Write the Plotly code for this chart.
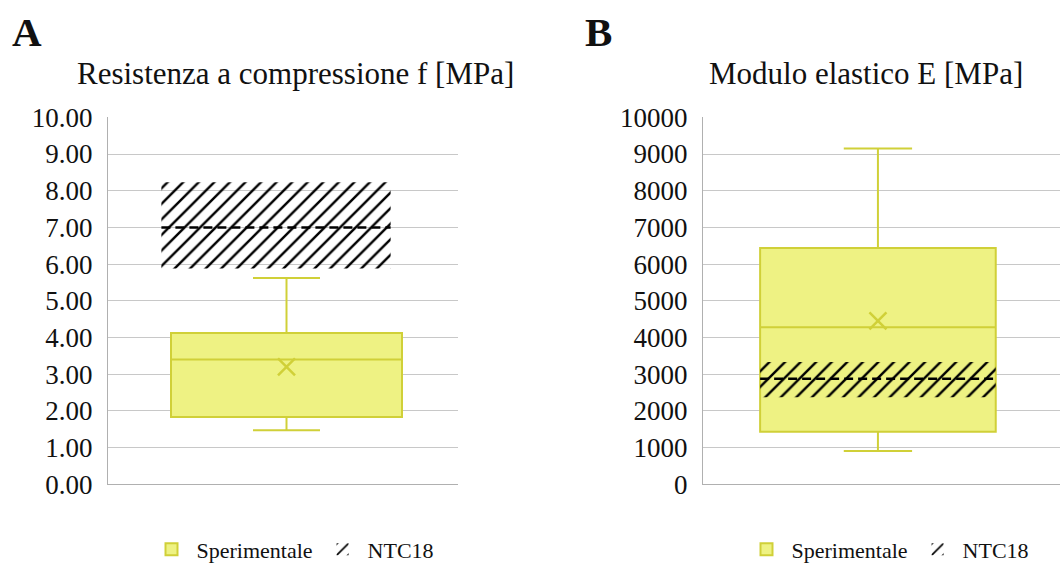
import plotly.graph_objects as go

# ---------------- data ----------------
panel_letters = ["A", "B"]
panel_titles = ["Resistenza a compressione f [MPa]", "Modulo elastico E [MPa]"]
legend_names = ["Sperimentale", "NTC18"]

# Sperimentale (box statistics)
exp_lower = [1.47, 900]
exp_q1 = [1.83, 1430]
exp_median = [3.40, 4280]
exp_q3 = [4.12, 6440]
exp_upper = [5.62, 9150]
exp_mean = [3.20, 4450]

# NTC18 (range and mean)
ntc_low = [5.88, 2370]
ntc_high = [8.23, 3330]
ntc_mean = [7.00, 2870]

# axes
y_max = [10, 10000]
y_step = [1, 1000]
y_format = [".2f", "d"]

# ---------------- style / layout ----------------
W, H = 1060, 574
FONT = "'Liberation Serif', 'Times New Roman', Times, serif"
BOX_FILL = "#eef283"
BOX_LINE = "#d0d038"
HATCH = "#000000"
GRID = "#c8c8c8"

x_domains = [[108 / W, 458 / W], [703 / W, 1.0]]
y_domain = [(H - 495) / H, (H - 108) / H]
box_x = [0.51, 0.49]
box_w = [0.66, 0.66]
ntc_x = [0.48, 0.49]
ntc_w = [0.655, 0.66]
letter_x = [10, 583]
title_x = [295, 866]
legend_x = [293, 888]

fig = go.Figure()
layout = dict(
    width=W, height=H, margin=dict(l=0, r=0, t=0, b=0),
    paper_bgcolor="white", plot_bgcolor="white",
    font=dict(family=FONT, color="#111"),
    showlegend=True,
)
annotations = []

for i in range(2):
    xa = "x" if i == 0 else "x2"
    ya = "y" if i == 0 else "y2"
    xo = f"x{i + 3}"
    yo = f"y{i + 3}"
    leg = "legend" if i == 0 else "legend2"

    fig.add_trace(go.Box(
        x=[box_x[i]], q1=[exp_q1[i]], median=[exp_median[i]], q3=[exp_q3[i]],
        lowerfence=[exp_lower[i]], upperfence=[exp_upper[i]],
        width=box_w[i], whiskerwidth=0.29, boxpoints=False,
        fillcolor=BOX_FILL, line=dict(color=BOX_LINE, width=2),
        name=legend_names[0], legend=leg, xaxis=xa, yaxis=ya, hoverinfo="skip",
    ))
    fig.add_trace(go.Bar(
        x=[ntc_x[i]], base=[ntc_low[i]], y=[ntc_high[i] - ntc_low[i]], width=ntc_w[i],
        marker=dict(color="rgba(0,0,0,0)", line=dict(width=0),
                    pattern=dict(shape="/", fgcolor=HATCH, fgopacity=1,
                                 bgcolor="rgba(0,0,0,0)",
                                 size=11, solidity=0.22, fillmode="overlay")),
        name=legend_names[1], legend=leg, xaxis=xo, yaxis=yo, hoverinfo="skip",
    ))
    fig.add_trace(go.Scatter(
        x=[ntc_x[i] - ntc_w[i] / 2, ntc_x[i] + ntc_w[i] / 2], y=[ntc_mean[i], ntc_mean[i]],
        mode="lines", line=dict(color=HATCH, width=2.5, dash="9px,5px"),
        showlegend=False, xaxis=xo, yaxis=yo, hoverinfo="skip",
    ))
    fig.add_trace(go.Scatter(
        x=[box_x[i]], y=[exp_mean[i]], mode="markers",
        marker=dict(symbol="x-thin", size=17, line=dict(width=2.5, color=BOX_LINE)),
        showlegend=False, xaxis=xo, yaxis=yo, hoverinfo="skip",
    ))

    sfx = "" if i == 0 else "2"
    layout["xaxis" + sfx] = dict(
        domain=x_domains[i], range=[0, 1], showgrid=False, zeroline=False,
        showticklabels=False, showline=True, linecolor="#b0b0b0", linewidth=1,
        anchor=ya, fixedrange=True,
    )
    layout["yaxis" + sfx] = dict(
        domain=y_domain, range=[0, y_max[i]], dtick=y_step[i], tick0=0,
        tickformat=y_format[i], showgrid=True, gridcolor=GRID, gridwidth=1,
        zeroline=False, showline=True, linecolor="#b0b0b0", linewidth=1,
        ticks="", ticklabelstandoff=9, anchor=xa,
        tickfont=dict(size=27, family=FONT, color="#111"), fixedrange=True,
    )
    layout[f"xaxis{i + 3}"] = dict(overlaying=xa, range=[0, 1], visible=False, fixedrange=True)
    layout[f"yaxis{i + 3}"] = dict(overlaying=ya, range=[0, y_max[i]], visible=False, fixedrange=True)

    layout[leg] = dict(
        orientation="h", x=legend_x[i] / W, xanchor="center", y=(H - 564) / H, yanchor="middle",
        font=dict(size=22, family=FONT, color="#111"), bgcolor="rgba(0,0,0,0)",
        traceorder="normal", itemwidth=40,
    )

    annotations.append(dict(
        text=f"<b>{panel_letters[i]}</b>", x=letter_x[i] / W, y=(H - 18) / H,
        xref="paper", yref="paper", xanchor="left", yanchor="middle", showarrow=False,
        font=dict(size=41, family=FONT, color="#111"),
    ))
    annotations.append(dict(
        text=panel_titles[i], x=title_x[i] / W, y=(H - 62) / H,
        xref="paper", yref="paper", xanchor="center", yanchor="middle", showarrow=False,
        font=dict(size=31, family=FONT, color="#111"),
    ))

layout["annotations"] = annotations
layout["barmode"] = "overlay"
fig.update_layout(**layout)
fig.write_html("out.html")
